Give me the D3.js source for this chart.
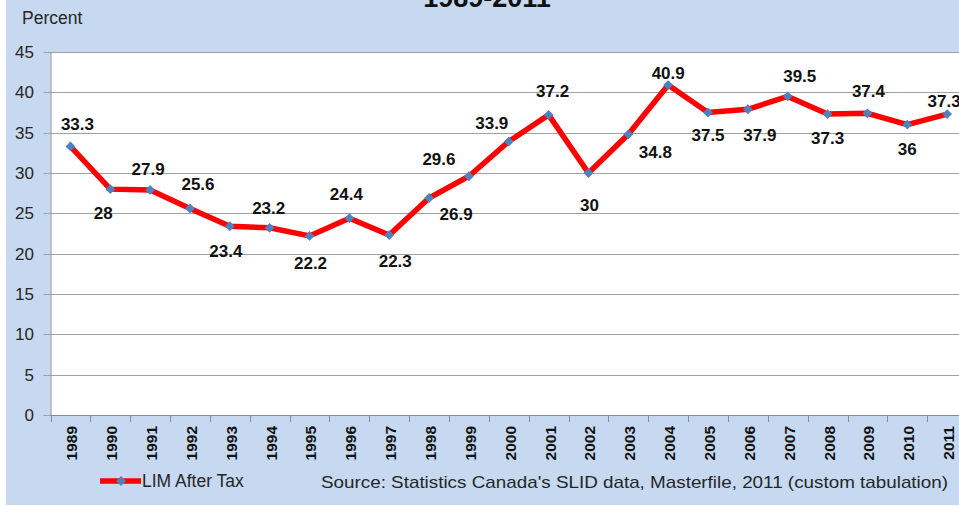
<!DOCTYPE html>
<html>
<head>
<meta charset="utf-8">
<style>
body { margin: 0; background: #fff; }
text { font-family: "Liberation Sans", Arial, sans-serif; }
.grid line { stroke: #a0a0a0; stroke-width: 1px; }
</style>
</head>
<body>
<script src="https://cdn.jsdelivr.net/npm/d3@7"></script>
<script>
// chart data
var years = ["1989","1990","1991","1992","1993","1994","1995","1996","1997","1998","1999","2000",
             "2001","2002","2003","2004","2005","2006","2007","2008","2009","2010","2011"];
var limAfterTax = [33.3, 28, 27.9, 25.6, 23.4, 23.2, 22.2, 24.4, 22.3, 26.9, 29.6, 33.9,
                   37.2, 30, 34.8, 40.9, 37.5, 37.9, 39.5, 37.3, 37.4, 36, 37.3];
var yTicks = [0, 5, 10, 15, 20, 25, 30, 35, 40, 45];
var seriesName = "LIM After Tax";
var chartTitle = "1989-2011";
var sourceNote = "Source: Statistics  Canada's SLID data, Masterfile, 2011 (custom tabulation)";

// where each value label sits relative to its point (dx, dy of label centre)
var labelNudge = [[7,-22],[-7,24],[-2,-21],[8,-24],[-4,25],[-1,-20],[1,27],[-3,-24],[6,26],[27,16],
                  [-30,-17],[-17,-18],[4,-24],[1,32],[27,18],[0,-12],[0,23],[12,26],[12,-20],[0,24],
                  [1,-22],[0,24],[-3,-13]];

var width = 959, height = 506;
var plotLeft = 50.5, plotTop = 52, plotBottom = 415, plotRight = plotLeft + 23 * 39.85;

var svg = d3.select("body").append("svg")
    .attr("width", width)
    .attr("height", height);

// blue chart area
svg.append("rect")
    .attr("x", 6).attr("y", 0)
    .attr("width", width - 6).attr("height", 505)
    .attr("fill", "#c6d9f0");

// plot area
svg.append("rect")
    .attr("x", plotLeft).attr("y", plotTop)
    .attr("width", plotRight - plotLeft).attr("height", plotBottom - plotTop)
    .attr("fill", "#fff");

var x = d3.scaleBand().domain(years).range([plotLeft, plotRight]).padding(0);
var y = d3.scaleLinear().domain([0, 45]).range([plotBottom, plotTop]);

// gridlines + y labels
var grid = svg.append("g").attr("class", "grid");
grid.selectAll("line")
    .data(yTicks)
    .enter().append("line")
    .attr("x1", plotLeft - 7).attr("x2", plotRight)
    .attr("y1", function(d) { return Math.round(y(d)) + 0.5; })
    .attr("y2", function(d) { return Math.round(y(d)) + 0.5; });

svg.selectAll(".ylab")
    .data(yTicks)
    .enter().append("text")
    .attr("class", "ylab")
    .attr("x", 34)
    .attr("y", function(d) { return y(d); })
    .attr("dy", "0.35em")
    .attr("text-anchor", "end")
    .attr("font-size", 17)
    .attr("fill", "#262626")
    .text(function(d) { return d; });

// y axis line
svg.append("line")
    .attr("x1", plotLeft + 0.5).attr("x2", plotLeft + 0.5)
    .attr("y1", plotTop).attr("y2", plotBottom + 0.5)
    .attr("stroke", "#8c8c8c");

// x axis: ticks on category boundaries
var xb = svg.append("g");
xb.selectAll("line")
    .data(years.concat(["end"]))
    .enter().append("line")
    .attr("x1", function(d) { return Math.round(d === "end" ? plotRight : x(d)) + 0.5; })
    .attr("x2", function(d) { return Math.round(d === "end" ? plotRight : x(d)) + 0.5; })
    .attr("y1", plotBottom).attr("y2", plotBottom + 7)
    .attr("stroke", "#8c8c8c");
svg.append("line")
    .attr("x1", plotLeft).attr("x2", plotRight)
    .attr("y1", plotBottom + 0.5).attr("y2", plotBottom + 0.5)
    .attr("stroke", "#8c8c8c");

svg.selectAll(".xlab")
    .data(years)
    .enter().append("text")
    .attr("class", "xlab")
    .attr("transform", function(d) {
        return "translate(" + (x(d) + x.bandwidth() / 2 + 1.5) + "," + 426 + ") rotate(-90)";
    })
    .attr("dy", "0.35em")
    .attr("text-anchor", "end")
    .attr("font-size", 15.5)
    .attr("font-weight", "bold")
    .attr("fill", "#111")
    .text(function(d) { return d; });

// series line
var cx = function(i) { return x(years[i]) + x.bandwidth() / 2; };
var line = d3.line()
    .x(function(d, i) { return cx(i); })
    .y(function(d) { return y(d); });

svg.append("path")
    .datum(limAfterTax)
    .attr("d", line)
    .attr("fill", "none")
    .attr("stroke", "#ff0000")
    .attr("stroke-width", 5.5)
    .attr("stroke-linejoin", "miter");

var diamond = d3.symbol().type(d3.symbolSquare).size(48);
svg.selectAll(".pt")
    .data(limAfterTax)
    .enter().append("path")
    .attr("class", "pt")
    .attr("d", diamond)
    .attr("transform", function(d, i) { return "translate(" + cx(i) + "," + y(d) + ") rotate(45)"; })
    .attr("fill", "#4f81bd");

// value labels
svg.selectAll(".vlab")
    .data(limAfterTax)
    .enter().append("text")
    .attr("class", "vlab")
    .attr("x", function(d, i) { return cx(i) + labelNudge[i][0]; })
    .attr("y", function(d, i) { return y(d) + labelNudge[i][1]; })
    .attr("dy", "0.35em")
    .attr("text-anchor", "middle")
    .attr("font-size", 17)
    .attr("font-weight", "bold")
    .attr("fill", "#111")
    .text(function(d) { return d; });

// title (mostly cut off at top)
svg.append("text")
    .attr("x", 487).attr("y", 7)
    .attr("text-anchor", "middle")
    .attr("font-size", 27)
    .attr("font-weight", "bold")
    .attr("fill", "#111")
    .text(chartTitle);

svg.append("text")
    .attr("x", 22).attr("y", 24)
    .attr("font-size", 17.5)
    .attr("fill", "#262626")
    .text("Percent");

// legend
svg.append("line")
    .attr("x1", 100).attr("x2", 141)
    .attr("y1", 481).attr("y2", 481)
    .attr("stroke", "#ff0000")
    .attr("stroke-width", 5.5);
svg.append("path")
    .attr("d", diamond)
    .attr("transform", "translate(121,481) rotate(45)")
    .attr("fill", "#4f81bd");
svg.append("text")
    .attr("x", 142).attr("y", 481)
    .attr("dy", "0.35em")
    .attr("font-size", 17.5)
    .attr("fill", "#262626")
    .text(seriesName);

svg.append("text")
    .attr("x", 321).attr("y", 482)
    .attr("dy", "0.35em")
    .attr("font-size", 17)
    .attr("fill", "#262626")
    .attr("textLength", 627)
    .attr("lengthAdjust", "spacingAndGlyphs")
    .text(sourceNote);
</script>
</body>
</html>
